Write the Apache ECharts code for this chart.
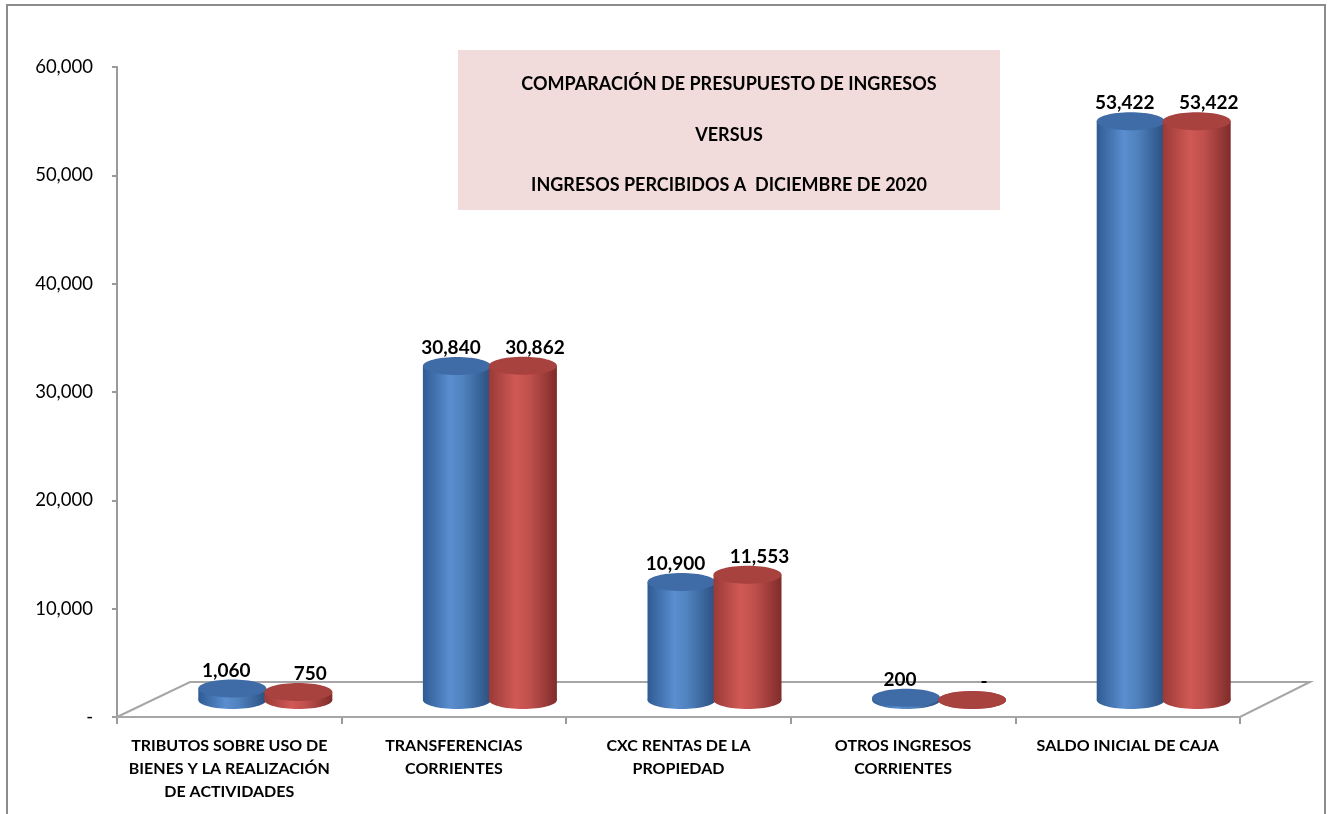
<!DOCTYPE html>
<html>
<head>
<meta charset="utf-8">
<title>Comparación de presupuesto de ingresos</title>
<script src="https://cdn.jsdelivr.net/npm/echarts@6/dist/echarts.min.js"></script>
<style>
    html, body { margin: 0; padding: 0; background: #fff; }
    #main { width: 1330px; height: 814px; }
</style>
</head>
<body>
<div id="main"></div>
<script>
// categorias del eje x
var categories = [
    'TRIBUTOS SOBRE USO DE\nBIENES Y LA REALIZACIÓN\nDE ACTIVIDADES',
    'TRANSFERENCIAS\nCORRIENTES',
    'CXC RENTAS DE LA\nPROPIEDAD',
    'OTROS INGRESOS\nCORRIENTES',
    'SALDO INICIAL DE CAJA'
];
// presupuesto de ingresos (azul)
var presupuesto = [1060, 30840, 10900, 200, 53422];
// ingresos percibidos a diciembre (rojo)
var percibidos = [750, 30862, 11553, 0, 53422];
// eje y
var yMin = 0;
var yMax = 60000;
var yStep = 10000;

var titleLines = [
    'COMPARACIÓN DE PRESUPUESTO DE INGRESOS',
    'VERSUS',
    'INGRESOS PERCIBIDOS A  DICIEMBRE DE 2020'
];

var FONT = 'Lato, "Open Sans", sans-serif';
// desplazamiento de la "profundidad" 3D (mitad del piso)
var DEPTH_X = 36;
var DEPTH_Y = -17;
var BAR_W = 68;
var ELL_RY = 9;

function fmt(v) {
    if (v === 0) return '-';
    return v.toLocaleString('en-US');
}

function cylinderSeries(name, values, side, labelDx, colors) {
    return {
        name: name,
        type: 'custom',
        z: 3,
        data: values.map(function (v, i) { return [i, v]; }),
        encode: { x: 0, y: 1 },
        renderItem: function (params, api) {
            var base = api.coord([api.value(0), 0]);
            var top = api.coord([api.value(0), api.value(1)]);
            var cx = base[0] + DEPTH_X + side * (BAR_W / 2 - 1);
            var baseY = base[1] + DEPTH_Y;
            var topY = top[1] + DEPTH_Y;
            var rx = BAR_W / 2;
            var body = new echarts.graphic.LinearGradient(0, 0, 1, 0, [
                { offset: 0, color: colors[0] },
                { offset: 0.4, color: colors[1] },
                { offset: 0.6, color: colors[2] },
                { offset: 1, color: colors[3] }
            ]);
            var children = [
                {
                    type: 'ellipse',
                    shape: { cx: cx, cy: baseY, rx: rx, ry: ELL_RY },
                    style: { fill: body }
                },
                {
                    type: 'rect',
                    shape: { x: cx - rx, y: topY, width: BAR_W, height: baseY - topY },
                    style: { fill: body }
                },
                {
                    type: 'ellipse',
                    shape: { cx: cx, cy: topY, rx: rx, ry: ELL_RY },
                    style: { fill: colors[4] }
                },
                {
                    type: 'text',
                    x: cx + labelDx,
                    y: topY - 18,
                    style: {
                        text: fmt(api.value(1)),
                        font: 'bold 19px ' + FONT,
                        fill: '#000',
                        align: 'center',
                        verticalAlign: 'middle'
                    }
                }
            ];
            return { type: 'group', children: children };
        }
    };
}

var chart = echarts.init(document.getElementById('main'));
var titleFont = 'bold 18px ' + FONT;
var option = {
    backgroundColor: '#fff',
    animation: false,
    grid: { left: 117, right: 90, top: 67, bottom: 97 },
    xAxis: {
        type: 'category',
        data: categories,
        axisLine: { lineStyle: { color: '#9a9a9a', width: 2 } },
        axisTick: { show: true, length: 7, lineStyle: { color: '#9a9a9a', width: 2 } },
        axisLabel: {
            interval: 0,
            margin: 17,
            color: '#000',
            fontFamily: FONT,
            fontWeight: 'bold',
            fontSize: 16,
            lineHeight: 23
        },
        splitLine: { show: false }
    },
    yAxis: {
        type: 'value',
        min: yMin,
        max: yMax,
        interval: yStep,
        axisLine: { show: true, lineStyle: { color: '#9a9a9a', width: 2 } },
        axisTick: { show: true, length: 5, lineStyle: { color: '#9a9a9a', width: 2 } },
        axisLabel: {
            margin: 24,
            color: '#000',
            fontFamily: FONT,
            fontSize: 18.5,
            formatter: fmt
        },
        splitLine: { show: false }
    },
    graphic: [
        // borde exterior
        {
            type: 'rect',
            z: 0,
            shape: { x: 7, y: 5, width: 1318, height: 830 },
            style: { fill: null, stroke: '#8c8c8c', lineWidth: 2 }
        },
        // piso 3D
        {
            type: 'polygon',
            z: 1,
            shape: { points: [[117, 717], [190, 682], [1310, 682], [1240, 717]] },
            style: { fill: '#fff', stroke: '#a6a6a6', lineWidth: 2 }
        },
        // caja del titulo
        {
            type: 'rect',
            z: 1,
            shape: { x: 458, y: 50, width: 542, height: 160 },
            style: { fill: '#f2dcdb' }
        },
        {
            type: 'text', z: 2, x: 729, y: 84,
            style: { text: titleLines[0], font: titleFont, fill: '#000', align: 'center', verticalAlign: 'middle' }
        },
        {
            type: 'text', z: 2, x: 729, y: 135,
            style: { text: titleLines[1], font: titleFont, fill: '#000', align: 'center', verticalAlign: 'middle' }
        },
        {
            type: 'text', z: 2, x: 729, y: 185,
            style: { text: titleLines[2], font: titleFont, fill: '#000', align: 'center', verticalAlign: 'middle' }
        }
    ],
    series: [
        cylinderSeries('Presupuesto', presupuesto, -1, -6,
            ['#2f5b93', '#5a8ecf', '#4f81bd', '#2a4f80', '#3f6ca6']),
        cylinderSeries('Ingresos percibidos', percibidos, 1, 12,
            ['#9a3a37', '#d05955', '#c0504d', '#7f2c2a', '#a8423f'])
    ]
};
chart.setOption(option);
</script>
</body>
</html>
